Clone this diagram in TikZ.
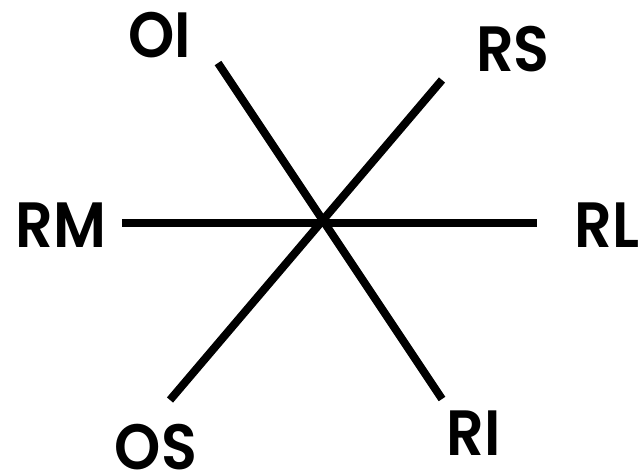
\documentclass[tikz,border=0pt]{standalone}
\usepackage{fontspec}
\newfontfamily\axisfont{Poppins}[UprightFont=* SemiBold]
\begin{document}
\begin{tikzpicture}[x=0.75pt,y=-0.75pt,
  axis/.style={line width=6pt,line cap=butt},
  axislabel/.style={font=\axisfont\fontsize{48}{52}\selectfont,xscale=0.92,inner sep=0pt,anchor=center}]
\path[use as bounding box] (0,0) rectangle (638,475);
% ends of the three axes
\coordinate (oiEnd) at (218,63);
\coordinate (riEnd) at (442,399);
\coordinate (rsEnd) at (442,80);
\coordinate (osEnd) at (170,400);
\coordinate (rmEnd) at (122,223);
\coordinate (rlEnd) at (537,223);
\draw[axis] (oiEnd) -- (riEnd);
\draw[axis] (rsEnd) -- (osEnd);
\draw[axis] (rmEnd) -- (rlEnd);
% labels
\node[axislabel] (oi) at (160,35) {OI};
\node[axislabel] (rs) at (513,49) {RS};
\node[axislabel] (rm) at (61,225) {RM};
\node[axislabel] (rl) at (607,225) {RL};
\node[axislabel] (os) at (156,447) {OS};
\node[axislabel] (ri) at (474,433) {RI};
\end{tikzpicture}
\end{document}
